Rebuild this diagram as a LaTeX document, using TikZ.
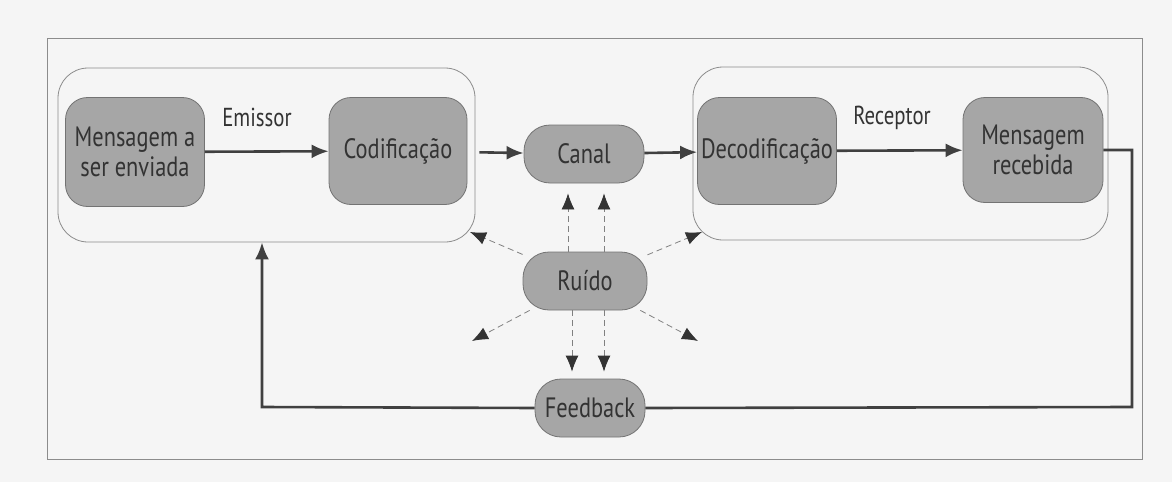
\documentclass[tikz,border=0pt]{standalone}
\usepackage{fontspec}
\setmainfont[FakeStretch=0.8]{PT Sans}
\usetikzlibrary{arrows.meta}

\begin{document}
\begin{tikzpicture}[x=0.5pt,y=-0.5pt,
  box/.style={draw=black!55,fill=black!35,rounded corners=11pt,text=black!80,
    align=center,inner sep=1pt,font=\fontsize{14}{15}\selectfont},
  group/.style={draw=black!45,rounded corners=15pt,thin},
  flow/.style={line width=1.3pt,black!75,-{Latex[length=8.5pt,width=7pt]}},
  noise/.style={densely dashed,black!50,thin,-{Latex[length=8pt,width=6.5pt,black!80]}},
  lbl/.style={text=black!80,font=\fontsize{13}{14}\selectfont}]
\fill[black!4] (0,0) rectangle (1172,482);
\draw[black!45] (47,38) rectangle (1142,459);%le cadre

% les deux groupes
\node[group,minimum width=208.5pt,minimum height=87pt] (emissor) at (266.5,155) {};
\node[group,minimum width=207.5pt,minimum height=86.5pt] (receptor) at (900.5,153.5) {};
\node[lbl] (lemissor) at (257,117) {Emissor};
\node[lbl] (lreceptor) at (892,118) {Receptor};

% les boites
\node[box,minimum width=69.5pt,minimum height=54.5pt] (msg) at (135,152) {Mensagem a\\ser enviada};
\node[box,minimum width=69pt,minimum height=53.5pt] (cod) at (398,151) {Codificação};
\node[box,minimum width=60pt,minimum height=29pt,rounded corners=13pt] (canal) at (584,154) {Canal};
\node[box,minimum width=69.5pt,minimum height=53.5pt,inner sep=0pt] (dec) at (767,151) {Decodificação};
\node[box,minimum width=70pt,minimum height=52.5pt] (msgrec) at (1033,150) {Mensagem\\recebida};
\node[box,minimum width=62pt,minimum height=29pt,rounded corners=13pt] (ru) at (585,281) {Ruído};
\node[box,minimum width=55pt,minimum height=29pt,rounded corners=13pt] (feed) at (590,408) {Feedback};

% le flux
\draw[flow] (msg) -- (cod);
\draw[flow,shorten <=6pt] (cod) -- (canal);
\draw[flow] (canal) -- (dec);
\draw[flow] (dec) -- (msgrec);

% le retour
\coordinate (fbr) at (1132,407);
\coordinate (fbl) at (262,407);
\draw[line width=1.3pt,black!75] (msgrec.east) -| (fbr) -- (feed.east);
\draw[flow] (feed.west) -- (fbl) -- (fbl |- emissor.south);

% le bruit
\coordinate (nul) at (470,232);
\coordinate (nur) at (702,232);
\coordinate (ndl) at (472,341);
\coordinate (ndr) at (698,341);
\draw[noise,shorten >=5pt] ([xshift=-8.5pt]ru.north) -- ([xshift=-8.5pt]ru.north |- canal.south);
\draw[noise,shorten >=5pt] ([xshift=9.5pt]ru.north) -- ([xshift=9.5pt]ru.north |- canal.south);
\draw[noise,shorten >=3.5pt] ([xshift=-6.5pt]ru.south) -- ([xshift=-6.5pt]ru.south |- feed.north);
\draw[noise,shorten >=3.5pt] ([xshift=9.5pt]ru.south) -- ([xshift=9.5pt]ru.south |- feed.north);
\draw[noise] (ru) -- (nul);
\draw[noise] (ru) -- (nur);
\draw[noise] (ru) -- (ndl);
\draw[noise] (ru) -- (ndr);

\end{tikzpicture}
\end{document}
